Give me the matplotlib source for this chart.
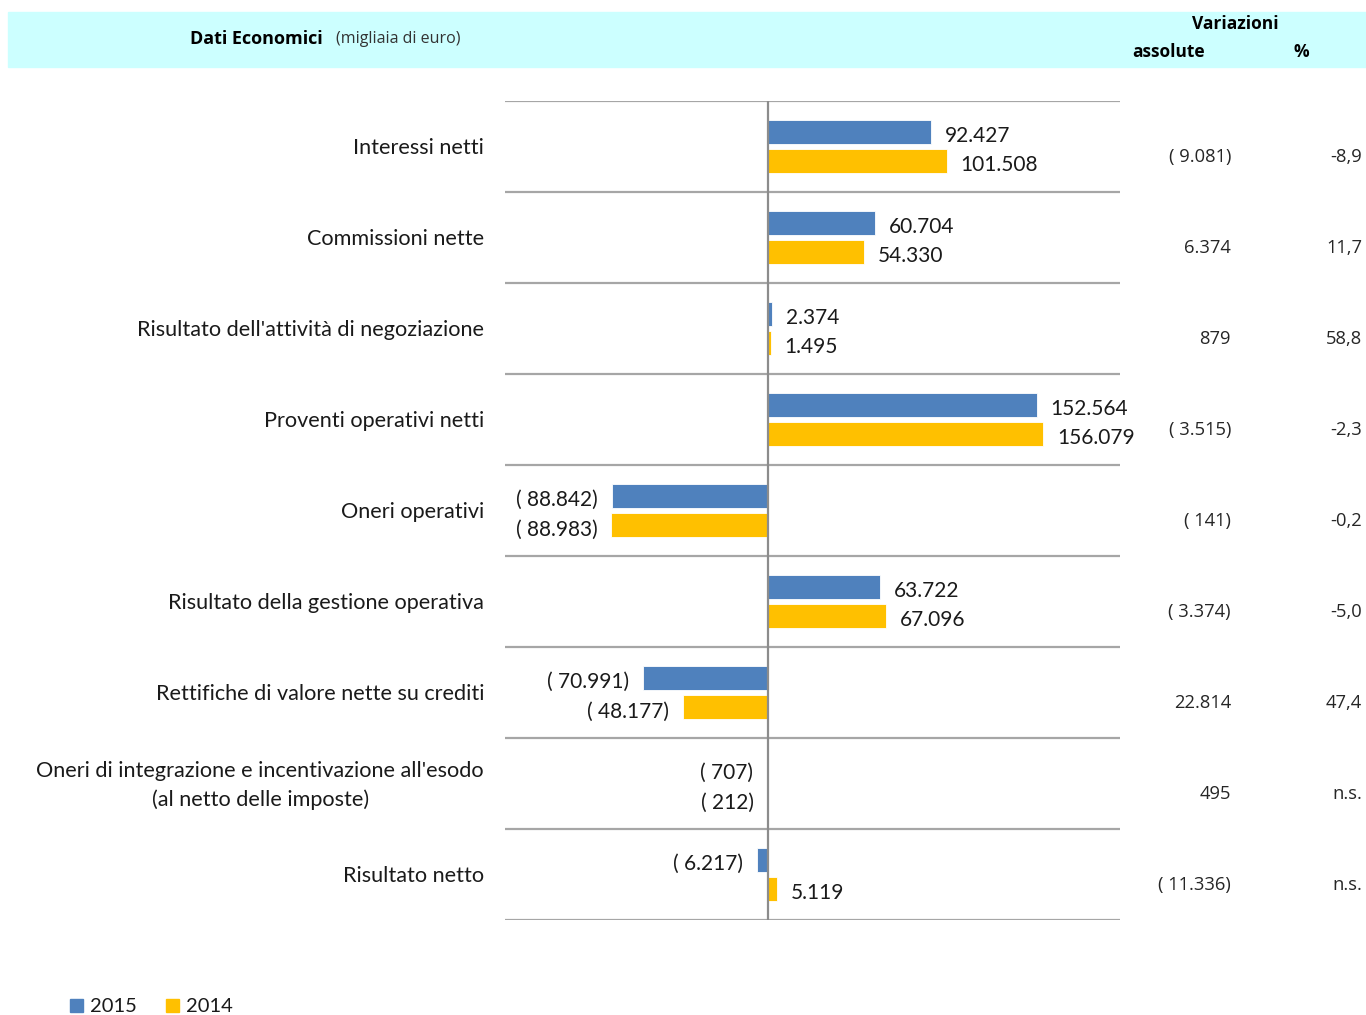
import matplotlib
matplotlib.use("Agg")
import matplotlib.pyplot as plt
from matplotlib.patches import Rectangle
from matplotlib.transforms import blended_transform_factory

# Dati economici (migliaia di euro)
categorie = [
    "Interessi netti",
    "Commissioni nette",
    "Risultato dell'attività di negoziazione",
    "Proventi operativi netti",
    "Oneri operativi",
    "Risultato della gestione operativa",
    "Rettifiche di valore nette su crediti",
    "Oneri di integrazione e incentivazione all'esodo\n(al netto delle imposte)",
    "Risultato netto",
]
val_2015 = [92427, 60704, 2374, 152564, -88842, 63722, -70991, -707, -6217]
val_2014 = [101508, 54330, 1495, 156079, -88983, 67096, -48177, -212, 5119]
var_assolute = ["( 9.081)", "6.374", "879", "( 3.515)", "( 141)", "( 3.374)",
                "22.814", "495", "( 11.336)"]
var_perc = ["-8,9", "11,7", "58,8", "-2,3", "-0,2", "-5,0", "47,4", "n.s.", "n.s."]

BLU = "#4f81bd"
GIALLO = "#ffc000"
GRIGIO = "#a6a6a6"
W, H = 1366, 1015


def fmt(v):
    s = f"{abs(v):,}".replace(",", ".")
    return f"( {s})" if v < 0 else s


def fx(px):
    return px / W


def fy(py):
    return 1 - py / H


fig = plt.figure(figsize=(W / 100, H / 100), dpi=100)
ax = fig.add_axes([fx(505), fy(920), fx(1120) - fx(505), fy(101) - fy(920)])

n = len(categorie)
pos = list(range(n))
bh = 0.264
off = 0.163
ax.barh([p - off for p in pos], val_2015, height=bh, color=BLU, edgecolor="white", linewidth=0.6)
ax.barh([p + off for p in pos], val_2014, height=bh, color=GIALLO, edgecolor="white", linewidth=0.6)

ax.set_xlim(-149300, 199800)
ax.set_ylim(n - 0.5, -0.5)
ax.axis("off")

for i in range(n + 1):
    ax.axhline(i - 0.5, color=GRIGIO, lw=1.6, zorder=0)
ax.axvline(0, color="#8c8c8c", lw=1.6, zorder=3)

lab_font = dict(family="Lato", fontsize=15, color="#1a1a1a")
gap = 7900
for p, a, b in zip(pos, val_2015, val_2014):
    for v, y in ((a, p - off + 0.045), (b, p + off + 0.045)):
        if v >= 0:
            ax.text(v + gap, y, fmt(v), ha="left", va="center", **lab_font)
        else:
            ax.text(v - gap, y, fmt(v), ha="right", va="center", **lab_font)

tr = blended_transform_factory(fig.transFigure, ax.transData)
for p, c in zip(pos, categorie):
    ax.text(fx(484), p + 0.02, c, transform=tr, ha="right", va="center",
            family="Lato", fontsize=15.6, color="#1a1a1a",
            linespacing=1.5, multialignment="center")
for p, a, pc in zip(pos, var_assolute, var_perc):
    ax.text(fx(1231), p + 0.12, a, transform=tr, ha="right", va="center",
            family="Open Sans", fontsize=13.2, color="#262626")
    ax.text(fx(1362), p + 0.12, pc, transform=tr, ha="right", va="center",
            family="Open Sans", fontsize=13.2, color="#262626")

# intestazione
fig.patches.append(Rectangle((fx(8), fy(67)), fx(1366) - fx(8), fy(12) - fy(67),
                             transform=fig.transFigure, color="#ccffff", zorder=0))
fig.text(fx(190), fy(39), "Dati Economici", ha="left", va="center",
         family="Open Sans", fontweight="bold", fontsize=13)
fig.text(fx(336), fy(39), "(migliaia di euro)", ha="left", va="center",
         family="Open Sans", fontsize=11.5, color="#333333")
fig.text(fx(1235), fy(24), "Variazioni", ha="center", va="center",
         family="Open Sans", fontweight="bold", fontsize=12.5)
fig.text(fx(1169), fy(52), "assolute", ha="center", va="center",
         family="Open Sans", fontweight="bold", fontsize=12.5)
fig.text(fx(1301), fy(52), "%", ha="center", va="center",
         family="Open Sans", fontweight="bold", fontsize=12.5)

# legenda
for x0, col, lab in ((70, BLU, "2015"), (166, GIALLO, "2014")):
    fig.patches.append(Rectangle((fx(x0), fy(1012)), fx(13), 13 / H,
                                 transform=fig.transFigure, color=col))
    fig.text(fx(x0 + 20), fy(1007), lab, ha="left", va="center",
             family="Lato", fontsize=14.5, color="#1a1a1a")

fig.savefig("out.png", dpi=100, facecolor="white")
